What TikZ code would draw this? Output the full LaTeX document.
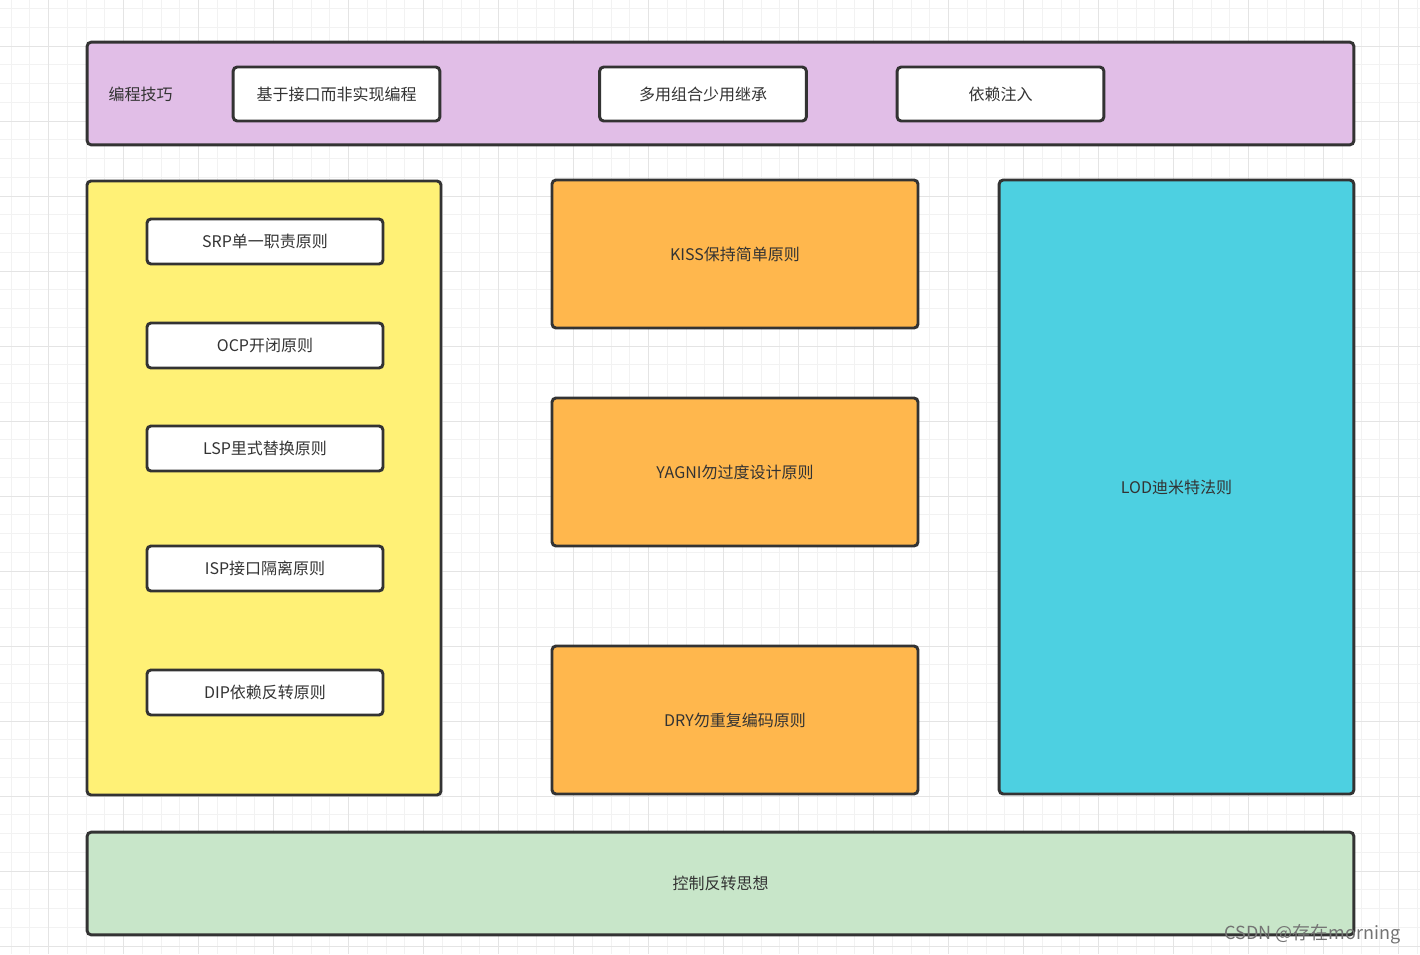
\documentclass[tikz,border=0pt]{standalone}
\usepackage{fontspec}
\setmainfont{Noto Sans CJK SC}
\usetikzlibrary{positioning}

\definecolor{gridminor}{RGB}{242,242,242}
\definecolor{gridmajor}{RGB}{228,228,228}
\definecolor{edgegray}{RGB}{51,51,51}
\definecolor{textgray}{RGB}{51,51,51}
\definecolor{tipsbg}{RGB}{225,190,231}
\definecolor{solidbg}{RGB}{255,241,118}
\definecolor{simplebg}{RGB}{255,183,77}
\definecolor{lodbg}{RGB}{77,208,225}
\definecolor{iocbg}{RGB}{200,230,201}

\tikzset{
  panel/.style={draw=edgegray, line width=2.2pt, rounded corners=3pt,
    text=textgray, font=\fontsize{12}{14}\selectfont},
  tipbox/.style={panel, fill=white, minimum width=155pt, minimum height=40.5pt},
  solidbox/.style={panel, fill=white, minimum width=177pt, minimum height=33.75pt},
  simplebox/.style={panel, fill=simplebg, minimum width=274.5pt, minimum height=111pt},
}

\begin{document}
\begin{tikzpicture}[x=0.75pt,y=-0.75pt]
 \useasboundingbox (0,0) rectangle (1420,954);
 \fill[white] (0,0) rectangle (1420,954);
 % background grid
 \foreach \gx in {11,29.75,...,1420} \draw[gridminor,line width=0.6pt] (\gx,0) -- (\gx,954);
 \foreach \gy in {8.5,27.25,...,954} \draw[gridminor,line width=0.6pt] (0,\gy) -- (1420,\gy);
 \foreach \gx in {48.5,123.5,...,1420} \draw[gridmajor,line width=0.7pt] (\gx,0) -- (\gx,954);
 \foreach \gy in {46,121,...,954} \draw[gridmajor,line width=0.7pt] (0,\gy) -- (1420,\gy);

 % programming tips
 \node[panel,fill=tipsbg,minimum width=950pt,minimum height=77pt] (tips) at (720.5,93.5) {};
 \node[text=textgray,font=\fontsize{12}{14}\selectfont,anchor=west] (tips_l) at (104,94) {编程技巧};
 \node[tipbox] (t_iface) at (336.5,94) {基于接口而非实现编程};
 \node[tipbox] (t_comp) at (703,94) {多用组合少用继承};
 \node[tipbox] (t_di) at (1000.5,94) {依赖注入};

 % SOLID
 \node[panel,fill=solidbg,minimum width=265.5pt,minimum height=460.5pt] (solid) at (264,488) {};
 \node[solidbox] (s_srp) at (265,241.5) {SRP单一职责原则};
 \node[solidbox] (s_ocp) at (265,345.5) {OCP开闭原则};
 \node[solidbox] (s_lsp) at (265,448.5) {LSP里式替换原则};
 \node[solidbox] (s_isp) at (265,568.5) {ISP接口隔离原则};
 \node[solidbox] (s_dip) at (265,692.5) {DIP依赖反转原则};

 % KISS, YAGNI, DRY
 \node[simplebox] (kiss) at (735,254) {KISS保持简单原则};
 \node[simplebox] (yagni) at (735,472) {YAGNI勿过度设计原则};
 \node[simplebox] (dry) at (735,720) {DRY勿重复编码原则};

 % LOD
 \node[panel,fill=lodbg,minimum width=266pt,minimum height=460.5pt] (lod) at (1176.5,487) {LOD迪米特法则};

 % IoC
 \node[panel,fill=iocbg,minimum width=950pt,minimum height=77pt] (ioc) at (720.5,883.5) {控制反转思想};

 \node[text=black!55,font=\fontsize{13.5}{15}\selectfont,anchor=east] (mark) at (1405,934) {CSDN @存在morning};
\end{tikzpicture}
\end{document}
